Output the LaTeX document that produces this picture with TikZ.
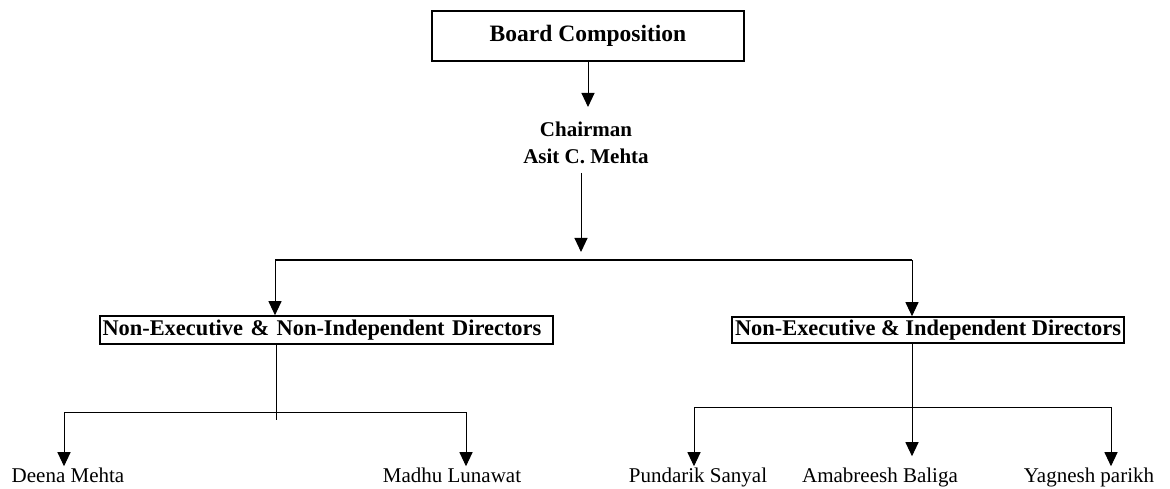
\documentclass[tikz,border=0pt]{standalone}
\usepackage{fontspec}
\setmainfont{Liberation Serif}
\usetikzlibrary{arrows.meta}
\begin{document}
\begin{tikzpicture}[x=1pt,y=-1pt,
    head/.style={draw,line width=1.6pt,font=\fontsize{22.4}{26}\selectfont\bfseries,inner sep=1pt},
    person/.style={font=\fontsize{21}{26}\selectfont,inner sep=1pt,anchor=base},
    arr/.style={-{Triangle[length=14pt,width=13pt]},line width=1pt}]
  \useasboundingbox (0,0) rectangle (1170,489);
  \node[draw,line width=1.2pt,minimum width=312,minimum height=50,font=\fontsize{23.5}{28}\selectfont\bfseries] (board) at (588,36) {Board Composition};
  \node[align=center,font=\fontsize{21}{27}\selectfont\bfseries] (chair) at (586,143)
    {Chairman\\Asit C. Mehta};
  \node[head,minimum width=453,minimum height=28,text width=448,align=left] (nnid) at (326.5,330)
    {Non-Executive \& Non-Independent Directors};
  \node[head,minimum width=392,minimum height=26] (nid) at (928,330)
    {Non-Executive \& Independent Directors};
  \node[person] (deena) at (68,482) {Deena Mehta};
  \node[person] (madhu) at (452,482) {Madhu Lunawat};
  \node[person] (pund) at (698,482) {Pundarik Sanyal};
  \node[person] (amab) at (880,482) {Amabreesh Baliga};
  \node[person] (yag) at (1089,482) {Yagnesh parikh};
  % junction points
  \coordinate (top) at (581,173);
  \coordinate (hub) at (581,252);
  \coordinate (hubL) at (275,260);
  \coordinate (hubR) at (912,260);
  \coordinate (l0) at (276,420);
  \coordinate (l1) at (64,412);
  \coordinate (l2) at (466,412);
  \coordinate (r1) at (694,407);
  \coordinate (r2) at (1111,407);
  \begin{scope}
    \draw[arr] (board.south -| 588,0) -- (588,107);
    \draw[arr] (top) -- (hub);
    \draw[line width=2pt] (hubL) -- (hubR);
    \draw[arr] (hubL) -- (hubL |- nnid.north);
    \draw[arr] (hubR) -- (hubR |- nid.north);
    \draw[line width=1pt] (nnid.south -| l0) -- (l0);
    \draw[line width=1pt] (l1) -- (l2);
    \draw[arr] (l1) -- (l1 |- deena.north);
    \draw[arr] (l2) -- (l2 |- madhu.north);
    \draw[line width=1pt] (r1) -- (r2);
    \draw[arr] (nid.south -| hubR) -- ([yshift=10pt]hubR |- amab.north);
    \draw[arr] (r1) -- (r1 |- pund.north);
    \draw[arr] (r2) -- (r2 |- yag.north);
  \end{scope}
\end{tikzpicture}
\end{document}
